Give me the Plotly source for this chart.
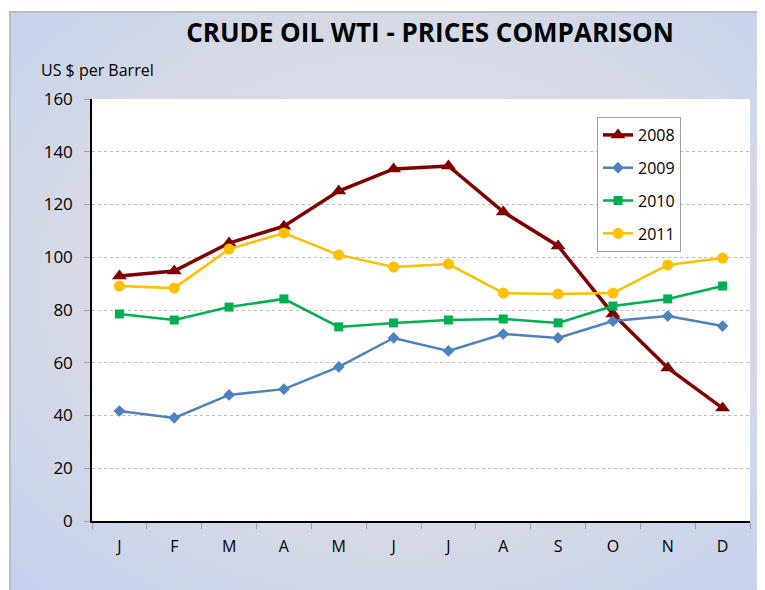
import base64
import plotly.graph_objects as go

months = ["J", "F", "M", "A", "M ", "J ", "J  ", "A ", "S", "O", "N", "D"]
tick_text = ["J", "F", "M", "A", "M", "J", "J", "A", "S", "O", "N", "D"]
y2008 = [92.9, 94.8, 105.4, 111.8, 125.1, 133.5, 134.6, 117.2, 104.3, 78.5, 58.0, 42.8]
y2009 = [41.7, 39.1, 47.8, 50.0, 58.4, 69.4, 64.5, 70.9, 69.4, 75.8, 77.7, 73.9]
y2010 = [78.5, 76.2, 81.1, 84.2, 73.6, 75.1, 76.2, 76.6, 75.1, 81.5, 84.2, 89.1]
y2011 = [89.1, 88.3, 103.1, 109.2, 100.9, 96.3, 97.4, 86.4, 86.1, 86.4, 97.1, 99.7]

W, H = 765, 590
OFF = 8  # page body margin offset
# target (screenshot) pixel positions of plot area
SL, SR, ST, SB = 92, 750, 99, 521
ML = SL - OFF
MT = ST - OFF
MR = W - (SR - OFF)
MB = H - (SB - OFF)
PW, PH = W - ML - MR, H - MT - MB

def px_x(p):
    return (p - OFF - ML) / PW

def px_y(p):
    return (H - MB - (p - OFF)) / PH

svg = (
    '<svg xmlns="http://www.w3.org/2000/svg" width="100" height="100" preserveAspectRatio="none" viewBox="0 0 100 100">'
    '<defs><radialGradient id="g" cx="50%" cy="45%" r="75%">'
    '<stop offset="0%" stop-color="#e0e0e3"/>'
    '<stop offset="55%" stop-color="#d6dae5"/>'
    '<stop offset="100%" stop-color="#c3d0ef"/>'
    '</radialGradient></defs>'
    '<rect x="0" y="0" width="100" height="100" fill="url(#g)"/></svg>'
)
src = "data:image/svg+xml;base64," + base64.b64encode(svg.encode()).decode()

fig = go.Figure()
fig.add_trace(go.Scatter(x=months, y=y2008, name="2008", mode="lines+markers", legendgroup="a",
                         line=dict(color="#7f0000", width=3.5),
                         marker=dict(symbol="triangle-up", size=13, color="#7f0000")))
fig.add_trace(go.Scatter(x=months, y=y2009, name="2009", mode="lines+markers", legendgroup="b",
                         line=dict(color="#4f81bd", width=2.5),
                         marker=dict(symbol="diamond", size=9, color="#4f81bd")))
fig.add_trace(go.Scatter(x=months, y=y2010, name="2010", mode="lines+markers", legendgroup="c",
                         line=dict(color="#00b050", width=2.5),
                         marker=dict(symbol="square", size=9, color="#00b050")))
fig.add_trace(go.Scatter(x=months, y=y2011, name="2011", mode="lines+markers", legendgroup="d",
                         line=dict(color="#ffc000", width=2.5),
                         marker=dict(symbol="circle", size=11, color="#ffc000")))

fig.update_layout(
    width=W, height=H,
    margin=dict(l=ML, r=MR, t=MT, b=MB, autoexpand=False),
    paper_bgcolor="white",
    plot_bgcolor="white",
    font=dict(family="Open Sans, sans-serif", color="black"),
    title=dict(text="<b>CRUDE OIL WTI - PRICES COMPARISON</b>",
               x=(430 - OFF) / W, xanchor="center", y=1 - (33 - OFF) / H, yanchor="middle",
               font=dict(size=26, family="Open Sans, sans-serif", color="black")),
    showlegend=True,
    legend=dict(x=px_x(597), y=px_y(117), xanchor="left", yanchor="top",
                bgcolor="white", bordercolor="#a0a0a0", borderwidth=1,
                font=dict(size=16), itemwidth=30, traceorder="grouped", tracegroupgap=9),
    images=[dict(source=src, xref="paper", yref="paper",
                 x=px_x(10), y=px_y(12), sizex=px_x(W + 20) - px_x(10),
                 sizey=px_y(12) - px_y(H + 20), xanchor="left", yanchor="top",
                 sizing="stretch", layer="below")],
    shapes=[
        dict(type="rect", xref="paper", yref="paper",
             x0=px_x(10), x1=px_x(W + 20), y0=px_y(H + 20), y1=px_y(12),
             line=dict(color="#b9bdc6", width=2), fillcolor="rgba(0,0,0,0)", layer="below"),
        dict(type="rect", xref="paper", yref="paper", x0=0, x1=1, y0=0, y1=1,
             line=dict(width=0), fillcolor="white", layer="below"),
    ],
    annotations=[dict(text="US $ per Barrel", xref="paper", yref="paper",
                      x=px_x(39), y=px_y(70), xanchor="left", yanchor="middle",
                      showarrow=False, font=dict(size=16, color="black"))],
)

fig.update_xaxes(
    tickmode="array", tickvals=months, ticktext=tick_text,
    showline=True, linecolor="black", linewidth=1.5,
    ticks="outside", tickson="boundaries", ticklen=6, tickcolor="#a0a0a0",
    ticklabelstandoff=10,
    showgrid=False, tickfont=dict(size=16), range=[-0.5, 11.5],
)
fig.update_yaxes(
    range=[0, 160], dtick=20, showline=True, linecolor="black", linewidth=1.5,
    ticks="outside", ticklen=6, tickcolor="#a0a0a0", ticklabelstandoff=8,
    showgrid=True, gridcolor="#bcbcbc", griddash="dot", gridwidth=1,
    tickfont=dict(size=17), zeroline=False,
)

fig.write_html("out.html")
